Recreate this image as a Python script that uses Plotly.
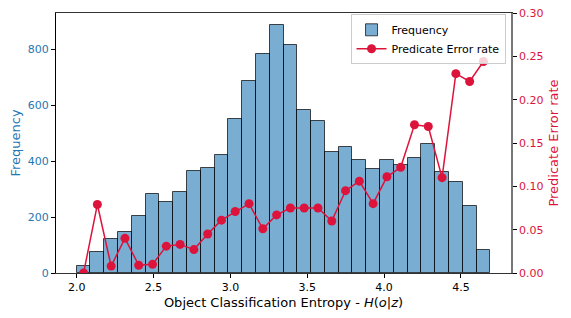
import numpy as np
import plotly.graph_objects as go

bin_start = 2.0
bin_width = 0.0897
frequency = [25, 75, 120, 146, 202, 282, 252, 291, 364, 374, 422, 549, 688, 782, 885,
             814, 582, 542, 431, 449, 405, 373, 403, 385, 410, 462, 361, 324, 239, 81]
error_rate = [0.0, 0.079, 0.008, 0.040, 0.009, 0.010, 0.031, 0.033, 0.027, 0.045, 0.061,
              0.071, 0.080, 0.051, 0.067, 0.075, 0.075, 0.075, 0.060, 0.095, 0.106, 0.080,
              0.111, 0.122, 0.171, 0.169, 0.110, 0.230, 0.221, 0.244]
x_ticks = [2.0, 2.5, 3.0, 3.5, 4.0, 4.5]
y2_ticks = [0.0, 0.05, 0.10, 0.15, 0.20, 0.25, 0.30]

centers = [bin_start + (i + 0.5) * bin_width for i in range(len(frequency))]

BLUE = "#1f77b4"
RED = "#dc143c"

fig = go.Figure()
fig.add_trace(go.Bar(
    x=centers, y=frequency, width=bin_width, name="Frequency",
    marker=dict(color="rgba(31,119,180,0.6)", line=dict(color="rgba(0,0,0,0.7)", width=1)),
    yaxis="y",
))
fig.add_trace(go.Scatter(
    x=centers, y=error_rate, mode="lines+markers", name="Predicate Error rate",
    line=dict(color=RED, width=1.5), marker=dict(color=RED, size=9),
    yaxis="y2",
))

x_end = bin_start + len(frequency) * bin_width
span = x_end - bin_start
fig.update_layout(
    width=571, height=318,
    margin=dict(l=56, r=60, t=13, b=45),
    paper_bgcolor="white", plot_bgcolor="white",
    font=dict(family="DejaVu Sans", size=11, color="black"),
    bargap=0,
    showlegend=True,
    legend=dict(x=0.988, y=0.995, xanchor="right", yanchor="top",
                bgcolor="rgba(255,255,255,0.8)", bordercolor="#cccccc", borderwidth=1,
                font=dict(size=11), tracegroupgap=0),
    xaxis=dict(
        range=[bin_start - 0.05 * span, x_end + 0.05 * span],
        tickvals=x_ticks, ticktext=[f"{v:.1f}" for v in x_ticks],
        ticks="outside", ticklen=4, tickcolor="black",
        showline=True, linecolor="#333333", linewidth=1, mirror=True,
        showgrid=False, zeroline=False, automargin=False,
        title=dict(text="Object Classification Entropy - <i>H</i>(<i>o</i>|<i>z</i>)",
                   font=dict(size=13), standoff=4),
    ),
    yaxis=dict(
        range=[0, 929.25],
        tickvals=[0, 200, 400, 600, 800],
        ticks="outside", ticklen=4, tickcolor="black",
        tickfont=dict(color=BLUE),
        showline=True, linecolor="black", linewidth=1,
        showgrid=False, zeroline=False, automargin=False,
        title=dict(text="Frequency", font=dict(size=13, color=BLUE), standoff=4),
    ),
    yaxis2=dict(
        range=[0, 0.30], overlaying="y", side="right",
        tickvals=y2_ticks, ticktext=[f"{v:.2f}" for v in y2_ticks],
        ticks="outside", ticklen=4, tickcolor="black",
        tickfont=dict(color=RED),
        showline=True, linecolor="#777777", linewidth=1.5,
        showgrid=False, zeroline=False, automargin=False,
        title=dict(text="Predicate Error rate", font=dict(size=13, color=RED), standoff=6),
    ),
)

fig.write_html("out.html", config={"displayModeBar": False},
               post_script="document.body.style.margin='0';")
